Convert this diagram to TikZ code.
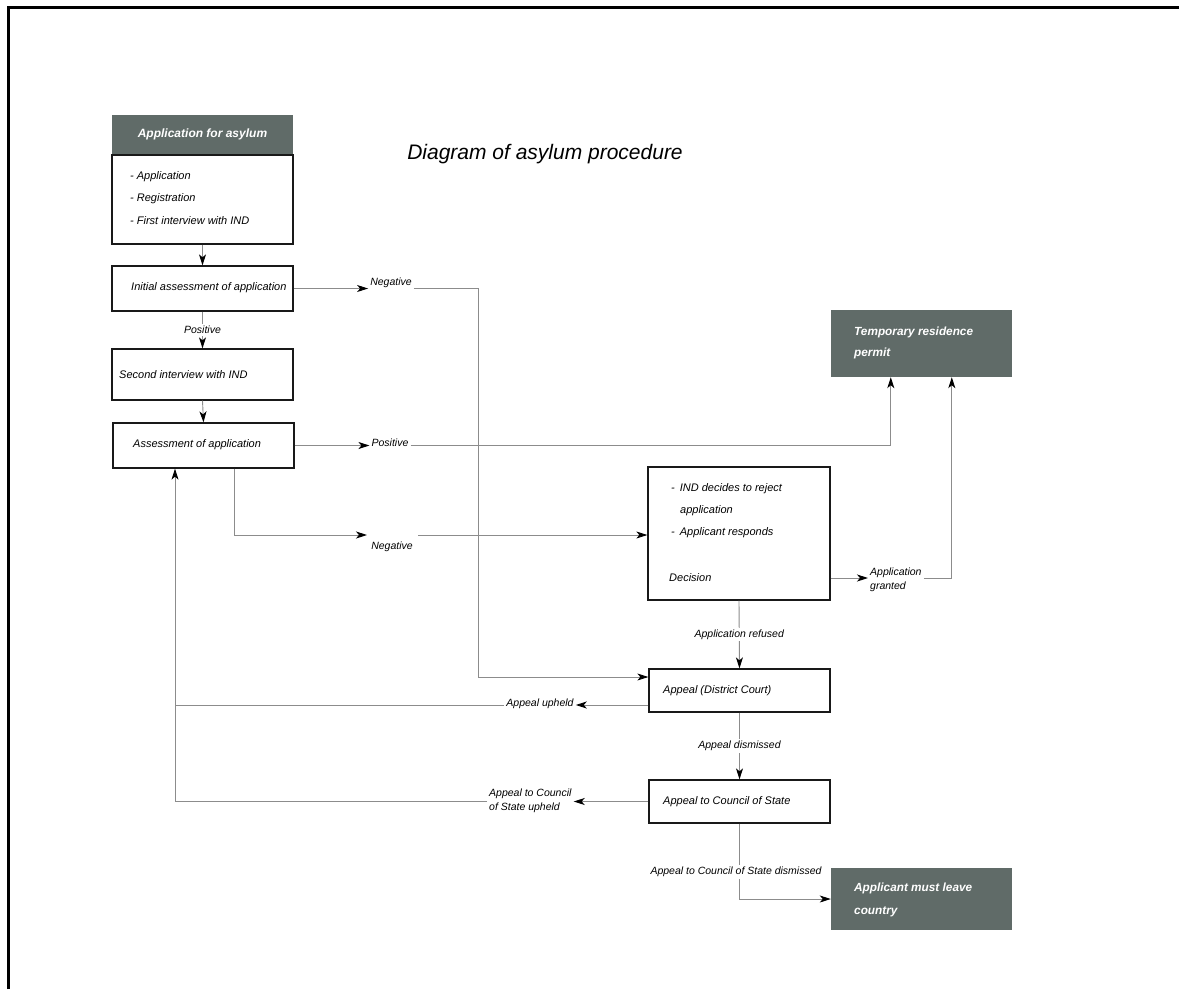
\documentclass[tikz,border=0pt]{standalone}
\usepackage{fontspec}
\setmainfont{Liberation Sans}
\usetikzlibrary{arrows.meta,calc}
\definecolor{slate}{RGB}{96,107,104}
\definecolor{wire}{RGB}{140,140,140}
\begin{document}
\begin{tikzpicture}[x=1pt,y=-1pt,
 box/.style={draw=black!90, line width=1.3pt, minimum width=181pt, inner sep=0pt},
 dark/.style={fill=slate, draw=none, minimum width=181pt, inner sep=0pt, text=white},
 txt/.style={font=\fontsize{11}{13}\selectfont\itshape, inner sep=0pt, anchor=west},
 wtxt/.style={font=\fontsize{11.8}{21}\selectfont\bfseries\itshape, text=white, inner sep=0pt, anchor=west, align=left},
 lab/.style={font=\fontsize{10.5}{14}\selectfont\itshape, inner sep=2pt},
 ln/.style={draw=wire, line width=0.9pt},
 conn/.style={ln, -{Stealth[length=11pt,width=7pt,inset=3pt,black]}},
]
\useasboundingbox (0,0) rectangle (1179,989);
\draw[line width=3pt] (8.5,989) -- (8.5,7) -- (1179,7);

% title
\node[font=\fontsize{21}{25}\selectfont\itshape, inner sep=0pt] (title) at (545,154) {Diagram of asylum procedure};

% left column
\node[dark, minimum height=40pt, font=\fontsize{12}{14}\selectfont\bfseries\itshape] (hdr) at (202.5,134.5) {Application for asylum};
\node[box, minimum height=89pt] (reg) at (202.5,199.5) {};
\node[txt] (r1t) at (130,177) {- Application};
\node[txt] (r2t) at (130,199) {- Registration};
\node[txt] (r3t) at (130,221) {- First interview with IND};

\node[box, minimum height=45pt] (init) at (202.5,288.5) {};
\node[txt] (initt) at (131,288) {Initial assessment of application};

\node[box, minimum height=51pt] (second) at (202.5,374.5) {};
\node[txt] (secondt) at (119,375) {Second interview with IND};

\node[box, minimum height=45pt] (asmt) at (203.5,445.5) {};
\node[txt] (asmtt) at (133,445) {Assessment of application};

% right side
\node[dark, minimum height=67pt] (trp) at (921.5,343.5) {};
\node[wtxt] (trpt) at (854,342.5) {Temporary residence\\permit};

\node[box, minimum width=182pt, minimum height=133pt] (dec) at (739,533.5) {};
\node[txt] (d1) at (671,489) {-\hspace{5pt}IND decides to reject};
\node[txt] (d2) at (680,511) {application};
\node[txt] (d3) at (671,533) {-\hspace{5pt}Applicant responds};
\node[txt] (d4) at (669,578) {Decision};

\node[box, minimum height=43pt] (dc) at (739.5,690.5) {};
\node[txt] (dct) at (663,691) {Appeal (District Court)};

\node[box, minimum height=43pt] (cs) at (739.5,801.5) {};
\node[txt] (cst) at (663,802) {Appeal to Council of State};

\node[dark, minimum height=62pt] (leave) at (921.5,899) {};
\node[wtxt, font=\fontsize{11.8}{23}\selectfont\bfseries\itshape] (leavet) at (854,900) {Applicant must leave\\country};

% labels
\node[lab] (neg1) at (391,283) {Negative};
\node[lab] (pos2) at (390,443) {Positive};
\node[lab] (neg2) at (392,547) {Negative};
\node[lab, anchor=west, align=left] (grant) at (868,580) {Application\\granted};
\node[lab] (up1) at (540,704) {Appeal upheld};
\node[lab, anchor=west, align=left] (up2) at (487,801) {Appeal to Council\\of State upheld};

% coordinates
\coordinate (k1) at (478,677);
\coordinate (t1) at ($(trp.south west)+(60,0)$);
\coordinate (t2) at ($(trp.south west)+(121,0)$);
\coordinate (a1) at ($(asmt.south)+(30.5,0)$);
\coordinate (n2a) at (367,535);
\coordinate (n2b) at (418,535);
\coordinate (rt) at ($(asmt.south)+(-28.5,0)$);

% connectors
\draw[conn] (reg.south) -- (init.north);
\draw[conn] (init.south) -- node[lab, fill=white] (pos1) {Positive} (second.north);
\draw[conn] (second.south) -- (asmt.north);

\draw[conn] (init.east) -- (init.east -| neg1.west);
\draw[conn] (init.east -| neg1.east) -| (k1) -- (k1 -| dc.west);

\draw[conn] (asmt.east) -- (asmt.east -| pos2.west);
\draw[conn] (asmt.east -| pos2.east) -| (t1);

\draw[conn] (a1) |- (n2a);
\draw[conn] (n2b) -- (n2b -| dec.west);

\draw[conn] (dec.east |- 0,578) -- (grant.west |- 0,578);
\draw[conn] (grant.east |- 0,578) -| (t2);

\draw[conn] (dec.south) -- node[lab, fill=white] (refused) {Application refused} (dc.north);

\draw[conn] (dc.west |- 0,705) -- (up1.east |- 0,705);
\draw[ln] (up1.west |- 0,705) -- (rt |- 0,705);

\draw[conn] (cs.west) -- (up2.east |- cs.west);
\draw[conn] (up2.west |- cs.west) -| (rt);

\draw[conn] (dc.south) -- node[lab, fill=white] (dismissed) {Appeal dismissed} (cs.north);

\draw[conn] (cs.south) |- (leave.west);
\node[lab, fill=white] (dis) at (736,872) {Appeal to Council of State dismissed};
\end{tikzpicture}
\end{document}
